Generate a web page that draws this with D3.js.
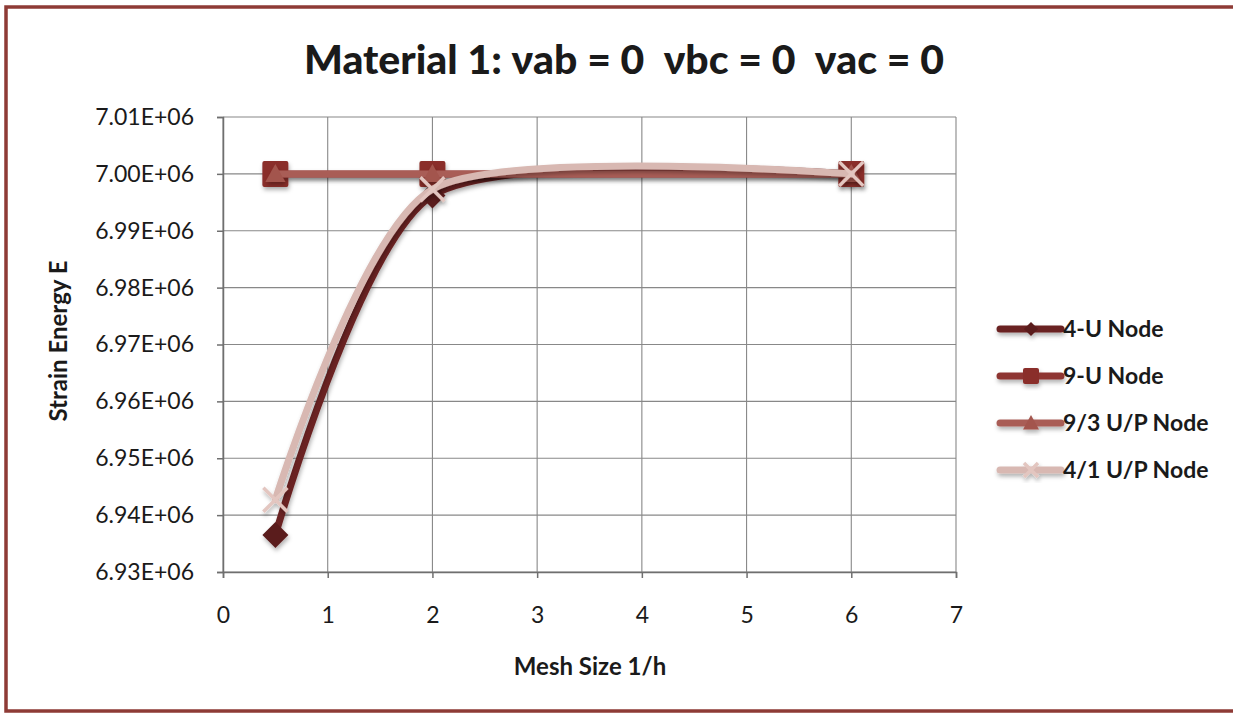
<!DOCTYPE html>
<html>
<head>
<meta charset="utf-8">
<script src="https://cdn.jsdelivr.net/npm/d3@7"></script>
<style>
  html, body { margin: 0; padding: 0; background: #fff; }
  svg { display: block; }
  text { font-family: Lato, "Open Sans", sans-serif; fill: #1a1a1a; }
</style>
</head>
<body>
<svg id="chart" width="1233" height="715"></svg>
<script>
// Strain energy vs. mesh size for the four element types
const meshSize = [0.5, 2, 6];
const seriesNames = ["4-U Node", "9-U Node", "9/3 U/P Node", "4/1 U/P Node"];
const energy4U  = [6936500, 6996200, 7000000];
const energy9U  = [7000000, 7000000, 7000000];
const energy93  = [7000000, 7000000, 7000000];
const energy41  = [6942700, 6997300, 7000000];
const xTicks = [0, 1, 2, 3, 4, 5, 6, 7];
const yTicks = [6930000, 6940000, 6950000, 6960000, 6970000, 6980000, 6990000, 7000000, 7010000];

const seriesValues = [energy4U, energy9U, energy93, energy41];
const lineColors   = ["#6a2222", "#8e3530", "#a95d56", "#d8b8b2"];
const markColors   = ["#5a1b1b", "#8a2e29", "#a3554d", "#e3c6c0"];
const markTypes    = ["diamond", "square", "triangle", "cross"];

const svg = d3.select("#chart");
const W = 1233, H = 715;

// outer frame
svg.append("rect").attr("x", 0).attr("y", 0).attr("width", W).attr("height", H).attr("fill", "#fff");
svg.append("path")
  .attr("d", `M${W + 5},7 L6,7 L6,711 L${W + 5},711`)
  .attr("fill", "none").attr("stroke", "#8e3b36").attr("stroke-width", 3.5);

const defs = svg.append("defs");
const f = defs.append("filter").attr("id", "shadow")
  .attr("x", "-20%").attr("y", "-20%").attr("width", "140%").attr("height", "160%");
f.append("feDropShadow").attr("dx", 1).attr("dy", 3).attr("stdDeviation", 2)
  .attr("flood-color", "#000").attr("flood-opacity", 0.3);

const x = d3.scaleLinear().domain([0, 7]).range([223, 956]);
const y = d3.scaleLinear().domain([6930000, 7010000]).range([572, 117]);

// gridlines
const grid = svg.append("g");
grid.selectAll("line.h").data(yTicks).join("line")
  .attr("x1", x(0)).attr("x2", x(7))
  .attr("y1", d => y(d)).attr("y2", d => y(d))
  .attr("stroke", "#888").attr("stroke-width", 1.1);
grid.selectAll("line.v").data(xTicks).join("line")
  .attr("y1", y(6930000)).attr("y2", y(7010000))
  .attr("x1", d => x(d)).attr("x2", d => x(d))
  .attr("stroke", "#888").attr("stroke-width", 1.1);

// axes
const fmt = d => (d / 1e6).toFixed(2) + "E+06";
const yAxis = svg.append("g").attr("transform", `translate(${x(0)},0)`)
  .call(d3.axisLeft(y).tickValues(yTicks).tickFormat(fmt).tickSize(6).tickPadding(23));
const xAxis = svg.append("g").attr("transform", `translate(0,${y(6930000)})`)
  .call(d3.axisBottom(x).tickValues(xTicks).tickFormat(d3.format("d")).tickSize(6).tickPadding(29));
[xAxis, yAxis].forEach(a => {
  a.select(".domain").attr("stroke", "#6f6f6f").attr("stroke-width", 1.5);
  a.selectAll(".tick line").attr("stroke", "#6f6f6f").attr("stroke-width", 1.5);
  a.selectAll("text").style("font-family", "Lato, sans-serif").style("font-size", "23px").attr("fill", "#1f1f1f");
});

// axis titles
svg.append("text").attr("x", 590).attr("y", 675).attr("text-anchor", "middle")
  .style("font-size", "24px").style("font-weight", "bold").text("Mesh Size 1/h");
svg.append("text").attr("transform", "translate(67,341) rotate(-90)").attr("text-anchor", "middle")
  .style("font-size", "24px").style("font-weight", "bold").text("Strain Energy E");

// title
const title = svg.append("text").attr("x", 304).attr("y", 74)
  .style("font-size", "40px").style("font-weight", "900").attr("fill", "#222")
  .attr("xml:space", "preserve");
title.text("Material 1: νab = 0  νbc = 0  νac = 0");
title.attr("textLength", 640).attr("lengthAdjust", "spacingAndGlyphs");

// marker drawing
function drawMarker(g, type, cx, cy, s, color) {
  if (type === "diamond") {
    g.append("path").attr("d", `M${cx},${cy - s} L${cx + s},${cy} L${cx},${cy + s} L${cx - s},${cy} Z`)
      .attr("fill", color);
  } else if (type === "square") {
    g.append("rect").attr("x", cx - s).attr("y", cy - s).attr("width", 2 * s).attr("height", 2 * s)
      .attr("rx", 2).attr("fill", color);
  } else if (type === "triangle") {
    g.append("path").attr("d", `M${cx},${cy - s} L${cx + s},${cy + s * 0.8} L${cx - s},${cy + s * 0.8} Z`)
      .attr("fill", color);
  } else {
    g.append("path").attr("d", `M${cx - s},${cy - s} L${cx + s},${cy + s} M${cx - s},${cy + s} L${cx + s},${cy - s}`)
      .attr("stroke", color).attr("stroke-width", 3.5).attr("fill", "none");
  }
}
const markSize = [13, 13, 10, 12];

// series, drawn as smoothed lines through the data points
const line = d3.line().x(d => x(d[0])).y(d => y(d[1])).curve(d3.curveCardinal.tension(0.25));
seriesValues.forEach((vals, i) => {
  const pts = meshSize.map((m, j) => [m, vals[j]]);
  const g = svg.append("g").attr("filter", "url(#shadow)");
  g.append("path").datum(pts).attr("d", line)
    .attr("fill", "none").attr("stroke", lineColors[i]).attr("stroke-width", 7)
    .attr("stroke-linecap", "round").attr("stroke-linejoin", "round");
  pts.forEach(p => drawMarker(g, markTypes[i], x(p[0]), y(p[1]), markSize[i], markColors[i]));
});

// legend
const legendY = [329, 376, 423, 470];
const legendMark = [7, 8, 8, 7];
seriesNames.forEach((name, i) => {
  const g = svg.append("g").attr("filter", "url(#shadow)");
  const ly = legendY[i];
  g.append("line").attr("x1", 1000).attr("x2", 1061).attr("y1", ly).attr("y2", ly)
    .attr("stroke", lineColors[i]).attr("stroke-width", 7).attr("stroke-linecap", "round");
  drawMarker(g, markTypes[i], 1031, ly, legendMark[i], markColors[i]);
  svg.append("text").attr("x", 1063).attr("y", ly + 8)
    .style("font-size", "23px").style("font-weight", "bold").attr("fill", "#1f1f1f").text(name);
});
</script>
</body>
</html>
